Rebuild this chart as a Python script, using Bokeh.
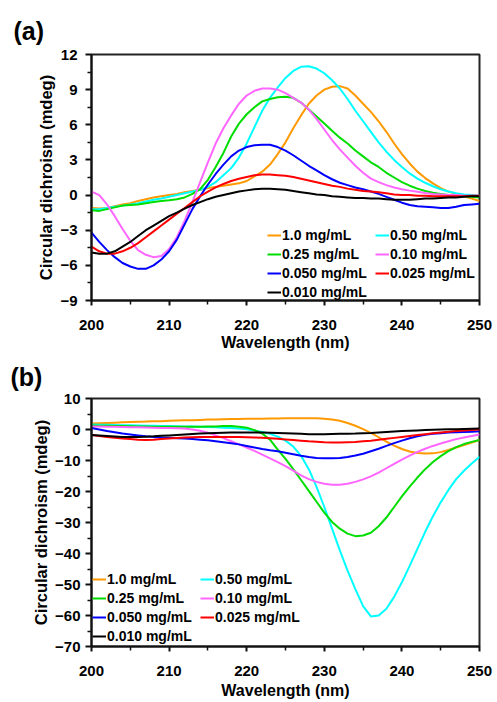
from bokeh.plotting import figure
from bokeh.layouts import column
from bokeh.models import Range1d, FixedTicker, Title
from bokeh.embed import file_html
from bokeh.resources import INLINE

# ---------------- data ----------------
wavelength = list(range(200, 251))

series_labels = ["1.0 mg/mL", "0.50 mg/mL", "0.25 mg/mL", "0.10 mg/mL",
                 "0.050 mg/mL", "0.025 mg/mL", "0.010 mg/mL"]
series_colors = ["#FF9900", "#00FFFF", "#00DD00", "#FF66FF",
                 "#0000FF", "#FF0000", "#000000"]

# panel (a)
a_1_0 = [-1.1, -1.15, -1.1, -0.95, -0.8, -0.7, -0.5, -0.35, -0.2, -0.1,
         0.0, 0.1, 0.25, 0.35, 0.45, 0.6, 0.7, 0.8, 0.9, 1.0,
         1.2, 1.6, 2.0, 2.6, 3.5, 4.5, 5.7, 6.8, 7.8, 8.5,
         9.0, 9.25, 9.3, 9.1, 8.5, 7.8, 7.1, 6.3, 5.4, 4.4,
         3.5, 2.7, 2.0, 1.45, 1.0, 0.6, 0.3, 0.1, -0.1, -0.3, -0.5]
a_0_50 = [-1.2, -1.2, -1.1, -1.0, -0.9, -0.8, -0.7, -0.55, -0.4, -0.3,
          -0.15, 0.0, 0.15, 0.3, 0.45, 0.7, 1.1, 1.7, 2.3, 3.2,
          4.4, 5.8, 7.2, 8.3, 9.2, 10.0, 10.6, 10.95, 11.0, 10.8,
          10.4, 9.8, 9.1, 8.2, 7.2, 6.3, 5.4, 4.5, 3.7, 3.0,
          2.4, 1.85, 1.4, 1.05, 0.75, 0.5, 0.3, 0.15, 0.05, 0.0, -0.05]
a_0_25 = [-1.3, -1.35, -1.2, -1.05, -0.9, -0.85, -0.8, -0.7, -0.6, -0.5,
          -0.45, -0.35, -0.2, 0.1, 0.5, 1.3, 2.4, 3.6, 5.0, 6.1,
          6.9, 7.5, 8.0, 8.2, 8.35, 8.4, 8.3, 7.9, 7.3, 6.7,
          6.1, 5.5, 4.9, 4.4, 3.8, 3.3, 2.8, 2.4, 1.9, 1.5,
          1.1, 0.8, 0.55, 0.35, 0.2, 0.1, 0.0, -0.05, -0.1, -0.15, -0.2]
a_0_10 = [0.3, 0.0, -0.8, -1.8, -2.9, -3.9, -4.7, -5.1, -5.3, -5.2,
          -4.6, -3.6, -2.2, -0.6, 1.1, 2.8, 4.4, 5.7, 6.8, 7.8,
          8.5, 8.9, 9.1, 9.1, 9.0, 8.7, 8.3, 7.9, 7.3, 6.5,
          5.6, 4.7, 3.9, 3.2, 2.5, 1.9, 1.4, 1.1, 0.85, 0.65,
          0.5, 0.38, 0.28, 0.18, 0.1, 0.05, 0.0, 0.0, -0.05, -0.05, -0.05]
a_0_050 = [-3.2, -4.0, -4.7, -5.3, -5.8, -6.1, -6.3, -6.3, -6.0, -5.5,
           -4.8, -3.8, -2.5, -1.2, -0.1, 0.9, 1.8, 2.6, 3.3, 3.8,
           4.1, 4.25, 4.3, 4.3, 4.1, 3.8, 3.4, 2.95, 2.5, 2.1,
           1.7, 1.35, 1.05, 0.85, 0.65, 0.5, 0.3, 0.1, -0.15, -0.4,
           -0.65, -0.85, -0.95, -1.0, -1.05, -1.1, -1.1, -1.0, -0.85, -0.8, -0.75]
a_0_025 = [-4.4, -4.8, -5.0, -5.0, -4.8, -4.5, -4.1, -3.6, -3.1, -2.6,
           -2.1, -1.6, -1.1, -0.6, -0.1, 0.3, 0.65, 0.95, 1.2, 1.4,
           1.55, 1.7, 1.75, 1.75, 1.7, 1.65, 1.55, 1.4, 1.25, 1.1,
           0.95, 0.8, 0.7, 0.55, 0.45, 0.35, 0.3, 0.25, 0.15, 0.05,
           0.0, 0.0, -0.05, -0.05, -0.1, -0.1, -0.1, -0.1, -0.1, -0.05, -0.05]
a_0_010 = [-4.9, -5.0, -5.0, -4.8, -4.4, -4.0, -3.5, -3.0, -2.6, -2.2,
           -1.8, -1.5, -1.15, -0.85, -0.6, -0.35, -0.15, 0.0, 0.15, 0.3,
           0.4, 0.5, 0.55, 0.55, 0.5, 0.45, 0.35, 0.25, 0.15, 0.05,
           0.0, -0.1, -0.15, -0.2, -0.25, -0.25, -0.3, -0.3, -0.35, -0.4,
           -0.4, -0.4, -0.35, -0.3, -0.3, -0.25, -0.2, -0.2, -0.15, -0.1, -0.1]

# panel (b)
b_1_0 = [1.9, 2.0, 2.1, 2.2, 2.3, 2.4, 2.5, 2.55, 2.65, 2.7,
         2.8, 2.9, 2.95, 3.0, 3.1, 3.2, 3.25, 3.3, 3.35, 3.4,
         3.45, 3.5, 3.5, 3.55, 3.55, 3.6, 3.6, 3.65, 3.65, 3.6,
         3.5, 3.25, 2.8, 2.1, 1.2, 0.1, -1.1, -2.5, -3.9, -5.2,
         -6.3, -7.1, -7.6, -7.75, -7.7, -7.3, -6.6, -5.8, -5.0, -4.2, -3.4]
b_0_50 = [1.6, 1.55, 1.5, 1.45, 1.4, 1.35, 1.3, 1.25, 1.2, 1.15,
          1.1, 1.05, 1.0, 0.95, 0.9, 0.8, 0.7, 0.6, 0.5, 0.3,
          0.1, -0.3, -0.8, -1.4, -2.3, -3.6, -5.5, -8.5, -12.8, -18.5,
          -25.0, -32.0, -39.0, -45.5, -51.5, -57.0, -60.3, -60.0, -57.8, -54.0,
          -49.3, -44.0, -38.5, -33.0, -28.0, -23.5, -19.5, -16.0, -13.3, -11.0, -8.8]
b_0_25 = [1.3, 1.25, 1.2, 1.15, 1.1, 1.05, 1.0, 0.95, 0.9, 0.85,
          0.85, 0.85, 0.85, 0.9, 0.9, 0.95, 1.0, 1.1, 1.1, 0.9,
          0.6, -0.2, -1.3, -3.3, -6.5, -9.5, -12.8, -16.3, -19.8, -23.3,
          -26.8, -29.8, -32.0, -33.6, -34.4, -34.2, -33.3, -31.2, -28.4, -25.0,
          -21.6, -18.4, -15.5, -12.8, -10.5, -8.6, -7.0, -5.7, -4.7, -4.0, -3.4]
b_0_10 = [1.0, 0.95, 0.9, 0.85, 0.8, 0.75, 0.7, 0.65, 0.6, 0.5,
          0.45, 0.4, 0.3, 0.0, -0.4, -1.0, -1.9, -2.8, -3.8, -4.8,
          -5.8, -6.9, -8.1, -9.3, -10.5, -11.8, -13.3, -14.8, -16.0, -16.9,
          -17.5, -17.8, -17.8, -17.5, -16.9, -16.1, -15.1, -13.9, -12.5, -11.1,
          -9.7, -8.4, -7.2, -6.2, -5.3, -4.5, -3.8, -3.1, -2.6, -2.1, -1.6]
b_0_050 = [0.5, 0.0, -0.5, -0.9, -1.3, -1.6, -1.9, -2.2, -2.4, -2.6,
           -2.7, -2.8, -2.9, -3.1, -3.3, -3.5, -3.8, -4.1, -4.4, -4.8,
           -5.3, -5.8, -6.3, -6.7, -7.0, -7.5, -8.0, -8.5, -8.9, -9.2,
           -9.3, -9.3, -9.2, -8.9, -8.4, -7.8, -7.0, -6.2, -5.3, -4.4,
           -3.6, -2.8, -2.2, -1.7, -1.4, -1.2, -1.0, -0.9, -0.8, -0.7, -0.6]
b_0_025 = [-1.8, -2.1, -2.4, -2.7, -2.9, -3.1, -3.3, -3.4, -3.3, -3.1,
           -2.9, -2.75, -2.6, -2.5, -2.4, -2.4, -2.4, -2.4, -2.4, -2.45,
           -2.5, -2.6, -2.7, -2.85, -3.0, -3.2, -3.4, -3.6, -3.8, -3.95,
           -4.1, -4.2, -4.2, -4.1, -4.0, -3.8, -3.6, -3.3, -3.0, -2.7,
           -2.4, -2.1, -1.8, -1.5, -1.2, -0.95, -0.7, -0.5, -0.3, -0.15, 0.0]
b_0_010 = [-1.8, -1.95, -2.1, -2.25, -2.4, -2.4, -2.4, -2.3, -2.2, -2.05,
           -1.9, -1.75, -1.6, -1.45, -1.3, -1.2, -1.1, -1.05, -1.0, -1.0,
           -1.0, -1.0, -1.0, -1.05, -1.1, -1.2, -1.3, -1.4, -1.5, -1.5,
           -1.5, -1.45, -1.4, -1.35, -1.3, -1.2, -1.1, -0.95, -0.8, -0.65,
           -0.5, -0.4, -0.3, -0.2, -0.1, -0.02, 0.05, 0.1, 0.2, 0.25, 0.3]

panel_a = [a_1_0, a_0_50, a_0_25, a_0_10, a_0_050, a_0_025, a_0_010]
panel_b = [b_1_0, b_0_50, b_0_25, b_0_10, b_0_050, b_0_025, b_0_010]

# legend shows the items row by row in two columns
legend_order = [0, 2, 4, 6, 1, 3, 5]

x_major = [200, 210, 220, 230, 240, 250]
x_minor = [205, 215, 225, 235, 245]
a_y_major = [-9, -6, -3, 0, 3, 6, 9, 12]
a_y_minor = [-7.5, -4.5, -1.5, 1.5, 4.5, 7.5, 10.5]
b_y_major = [-70, -60, -50, -40, -30, -20, -10, 0, 10]
b_y_minor = [-65, -55, -45, -35, -25, -15, -5, 5]

FONT = "Liberation Sans"


def make_panel(series, ymin, ymax, ymaj, ymin_ticks, width, height,
               left, right, top, bottom, legend_loc, tag, tag_offset,
               tag_standoff, ylab_std, xlab_std, xtitle_std):
    p = figure(width=width, height=height, output_backend="svg",
               toolbar_location=None,
               x_range=Range1d(200, 250), y_range=Range1d(ymin, ymax),
               min_border_left=left, min_border_right=right,
               min_border_top=top, min_border_bottom=bottom)
    p.grid.visible = False
    p.outline_line_color = "#222222"
    p.outline_line_width = 2
    p.background_fill_color = "white"
    p.border_fill_color = "white"

    for vals, lab, col in zip(series, series_labels, series_colors):
        p.line(wavelength, vals, line_color=col, line_width=2, legend_label=lab)

    p.xaxis.ticker = FixedTicker(ticks=x_major, minor_ticks=x_minor)
    p.yaxis.ticker = FixedTicker(ticks=ymaj, minor_ticks=ymin_ticks)
    p.xaxis.axis_label = "Wavelength (nm)"
    p.yaxis.axis_label = "Circular dichroism (mdeg)"
    for ax in (p.xaxis[0], p.yaxis[0]):
        ax.axis_line_width = 2
        ax.axis_line_color = "#111111"
        ax.major_tick_line_width = 2
        ax.minor_tick_line_width = 1.5
        ax.major_tick_line_color = "#111111"
        ax.minor_tick_line_color = "#111111"
        ax.major_tick_in = 0
        ax.minor_tick_in = 0
        ax.major_label_text_font = FONT
        ax.major_label_text_font_style = "bold"
        ax.major_label_text_font_size = "15px"
        ax.major_label_text_color = "black"
        ax.axis_label_text_font = FONT
        ax.axis_label_text_font_style = "bold"
        ax.axis_label_text_color = "black"
    p.xaxis.major_tick_out = 5
    p.xaxis.minor_tick_out = 4
    p.yaxis.major_tick_out = 6
    p.yaxis.minor_tick_out = 4
    p.xaxis.major_label_standoff = xlab_std
    p.yaxis.major_label_standoff = ylab_std
    p.xaxis.axis_label_text_font_size = "16px"
    p.yaxis.axis_label_text_font_size = "16.5px"
    p.xaxis.axis_label_standoff = xtitle_std
    p.yaxis.axis_label_standoff = 2

    lg = p.legend[0]
    items = list(lg.items)
    lg.items = [items[i] for i in legend_order]
    lg.ncols = 2
    lg.location = legend_loc
    lg.border_line_color = None
    lg.background_fill_alpha = 0
    lg.padding = 0
    lg.margin = 0
    lg.spacing = 3
    lg.glyph_width = 14
    lg.glyph_height = 16
    lg.label_height = 16
    lg.label_width = 90
    lg.label_standoff = 1
    lg.label_text_font = FONT
    lg.label_text_font_style = "bold"
    lg.label_text_font_size = "14px"
    lg.label_text_color = "black"

    p.add_layout(Title(text=tag, align="left", offset=tag_offset,
                       standoff=tag_standoff, text_font=FONT,
                       text_font_style="bold", text_font_size="25px",
                       text_color="black"), "above")
    return p


pa = make_panel(panel_a, -9, 12, a_y_major, a_y_minor, 497, 353,
                86, 17, 54, 49, (176, 0), "(a)", -78, 20, 8, 14, 1)
pb = make_panel(panel_b, -70, 10, b_y_major, b_y_minor, 497, 349,
                91, 18, 43, 56, (1, 2), "(b)", -81, 15, 5, 14, 3)

layout = column(pa, pb, spacing=0)
open("out.html", "w").write(file_html(layout, INLINE))
